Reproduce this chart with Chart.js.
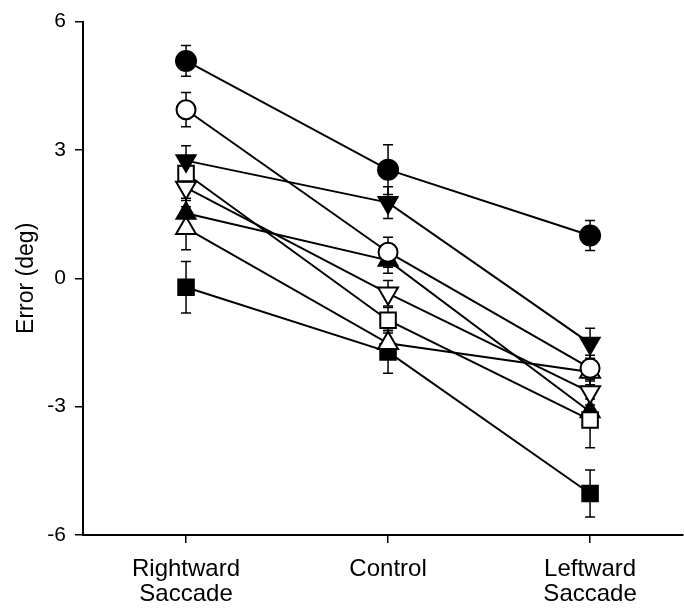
<!DOCTYPE html>
<html>
<head>
<meta charset="utf-8">
<script src="https://cdn.jsdelivr.net/npm/chart.js@4.4.1/dist/chart.umd.min.js"></script>
<style>
html,body{margin:0;padding:0;background:#fff;}
#wrap{width:684px;height:608px;}
</style>
</head>
<body>
<div id="wrap"><canvas id="c" width="684" height="608"></canvas></div>
<script>
// Categories (x positions 0,1,2)
const categories = [["Rightward","Saccade"], "Control", ["Leftward","Saccade"]];
const catPos = [0, 1, 2];
const yTicks = [-6, -3, 0, 3, 6];

// Series means and error half-widths (deg)
const filledCircleMean = [5.08, 2.54, 1.00];
const filledCircleErr  = [0.36, 0.58, 0.35];
const openCircleMean   = [3.94, 0.61, -2.10];
const openCircleErr    = [0.40, 0.35, 0.30];
const filledDownMean   = [2.75, 1.77, -1.52];
const filledDownErr    = [0.35, 0.37, 0.35];
const openSquareMean   = [2.45, -0.98, -3.31];
const openSquareErr    = [0.30, 0.30, 0.65];
const openDownMean     = [2.12, -0.35, -2.66];
const openDownErr      = [0.30, 0.30, 0.30];
const filledUpMean     = [1.52, 0.42, -3.12];
const filledUpErr      = [0.35, 0.30, 0.30];
const openUpMean       = [1.17, -1.52, -2.19];
const openUpErr        = [0.50, 0.30, 0.30];
const filledSquareMean = [-0.21, -1.72, -5.03];
const filledSquareErr  = [0.60, 0.50, 0.55];

function pts(arr){ return arr.map((v,i)=>({x: catPos[i], y: v})); }

function ds(mean, err, style, filled, rot, radius){
  return {
    data: pts(mean),
    errors: err,
    borderColor: '#000',
    backgroundColor: filled ? '#000' : '#fff',
    pointBackgroundColor: filled ? '#000' : '#fff',
    pointBorderColor: '#000',
    pointBorderWidth: 2,
    pointStyle: style,
    pointRotation: rot,
    pointRadius: radius,
    pointHoverRadius: radius,
    borderWidth: 2,
    showLine: true,
    fill: false,
    tension: 0,
    clip: false
  };
}

const datasets = [
  ds(filledCircleMean, filledCircleErr, 'circle', true, 0, 10),
  ds(openCircleMean, openCircleErr, 'circle', false, 0, 9.5),
  ds(filledDownMean, filledDownErr, 'triangle', true, 180, 11),
  ds(openSquareMean, openSquareErr, 'rect', false, 0, 11),
  ds(openDownMean, openDownErr, 'triangle', false, 180, 11.5),
  ds(filledUpMean, filledUpErr, 'triangle', true, 0, 11),
  ds(openUpMean, openUpErr, 'triangle', false, 0, 11.5),
  ds(filledSquareMean, filledSquareErr, 'rect', true, 0, 11)
];

const errorBars = {
  id: 'errorBars',
  beforeDatasetsDraw(chart){
    const ctx = chart.ctx;
    const xs = chart.scales.x, ys = chart.scales.y;
    ctx.save();
    ctx.strokeStyle = '#000';
    ctx.lineWidth = 1.5;
    chart.data.datasets.forEach(d => {
      d.data.forEach((p, i) => {
        const e = d.errors[i];
        const px = xs.getPixelForValue(p.x);
        const top = ys.getPixelForValue(p.y + e);
        const bot = ys.getPixelForValue(p.y - e);
        ctx.beginPath();
        ctx.moveTo(px, top); ctx.lineTo(px, bot);
        ctx.moveTo(px - 5, top); ctx.lineTo(px + 5, top);
        ctx.moveTo(px - 5, bot); ctx.lineTo(px + 5, bot);
        ctx.stroke();
      });
    });
    ctx.restore();
  }
};

const font = "'Liberation Sans', Arial, sans-serif";

new Chart(document.getElementById('c'), {
  type: 'scatter',
  data: { datasets },
  options: {
    responsive: false,
    animation: false,
    devicePixelRatio: 1,
    layout: { autoPadding: false, padding: { top: 20, right: 1, left: 0, bottom: 0 } },
    plugins: { legend: { display: false }, tooltip: { enabled: false } },
    scales: {
      x: {
        type: 'linear',
        min: -0.51,
        max: 2.46,
        afterBuildTicks(scale){ scale.ticks = catPos.map(v => ({ value: v })); },
        afterFit(scale){ scale.height = 73; scale.paddingLeft = 0; scale.paddingRight = 0; },
        ticks: {
          callback: (v) => categories[v],
          color: '#000',
          font: { family: font, size: 24, lineHeight: 1.05 },
          padding: 14,
          maxRotation: 0,
          autoSkip: false
        },
        grid: { display: true, drawOnChartArea: false, drawTicks: true, tickLength: 8, color: '#000', lineWidth: 1.5 },
        border: { display: true, color: '#000', width: 2 }
      },
      y: {
        min: -6,
        max: 6,
        afterBuildTicks(scale){ scale.ticks = yTicks.map(v => ({ value: v })); },
        afterFit(scale){ scale.width = 83; },
        ticks: {
          color: '#000',
          font: { family: font, size: 21 },
          padding: 9
        },
        title: {
          display: true,
          text: 'Error (deg)',
          color: '#000',
          font: { family: font, size: 23 },
          padding: { top: 13, bottom: 0 }
        },
        grid: { display: true, drawOnChartArea: false, drawTicks: true, tickLength: 8, color: '#000', lineWidth: 1.5 },
        border: { display: true, color: '#000', width: 2 }
      }
    }
  },
  plugins: [errorBars]
});
</script>
</body>
</html>
